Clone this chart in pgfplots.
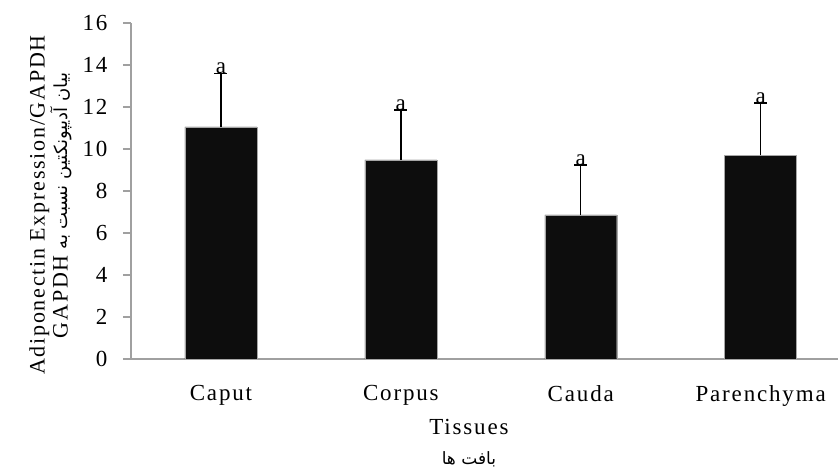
\documentclass[border=0pt]{standalone}
\usepackage{pgfplots}
\pgfplotsset{compat=1.18}
\usepackage{fontspec}
\setmainfont{Liberation Serif}[LetterSpace=8]
\newfontfamily\arabicfont[Script=Arabic]{DejaVu Sans}
\TeXXeTstate=1
\definecolor{axgray}{HTML}{A0A0A0}
\definecolor{barblack}{HTML}{0D0D0D}
\begin{document}
\begin{tikzpicture}
\begin{axis}[
  scale only axis, width=707pt, height=336pt,
  xmin=-0.5, xmax=3.43, ymin=0, ymax=16,
  axis x line*=bottom, axis y line*=left,
  axis line style={draw=axgray, line width=1.2pt, -},
  xtick={0,1,2,3}, xticklabels={Caput,Corpus,Cauda,Parenchyma},
  x tick style={draw=none},
  ytick={0,2,...,16},
  y tick style={draw=axgray, line width=1.2pt},
  tick align=outside, major tick length=8pt,
  ticklabel style={font=\fontsize{23}{26}\selectfont},
  /pgf/number format/assume math mode=true,
  xticklabel style={yshift=-15pt},
  yticklabel style={xshift=-12pt},
  xlabel={Tissues\\[4pt]{\arabicfont\fontsize{17}{19}\selectfont\beginR بافت ها\endR}},
  xlabel style={align=center, font=\fontsize{23}{26}\selectfont, at={(axis description cs:0.478,0)}, anchor=north, inner sep=0pt, yshift=-60pt},
  ylabel={Adiponectin Expression/GAPDH\\[-1pt]{\arabicfont\fontsize{18}{20}\selectfont\beginR بیان آدیپونکتین نسبت به \beginL{\rmfamily\fontsize{22}{24}\selectfont GAPDH}\endL\endR}},
  ylabel style={align=center, font=\fontsize{22}{24}\selectfont, at={(axis description cs:-0.083,0.458)}, anchor=south, inner sep=0pt},
  clip=false,
]
\addplot[ybar, bar width=0.4, fill=barblack, draw=gray!70,
  error bars/.cd, y dir=plus, y explicit,
  error bar style={black, line width=1.5pt},
  error mark options={black, line width=1.5pt, mark size=6.5pt, rotate=90}]
  table[x=x, y=y, y error=e] {
x y e
0 11.05 2.55
1 9.48 2.38
2 6.86 2.38
3 9.71 2.48
};
\addplot[draw=none, mark=none, nodes near coords={a},
  every node near coord/.append style={font=\fontsize{23}{26}\selectfont, anchor=south, inner sep=0pt, yshift=-0.5pt, black}]
  coordinates {(0,13.6) (1,11.86) (2,9.24) (3,12.19)};
\end{axis}
\pgfresetboundingbox
\path (current axis.south west) ++(-131pt,-110pt) rectangle ++(838pt,469pt);
\end{tikzpicture}
\end{document}
